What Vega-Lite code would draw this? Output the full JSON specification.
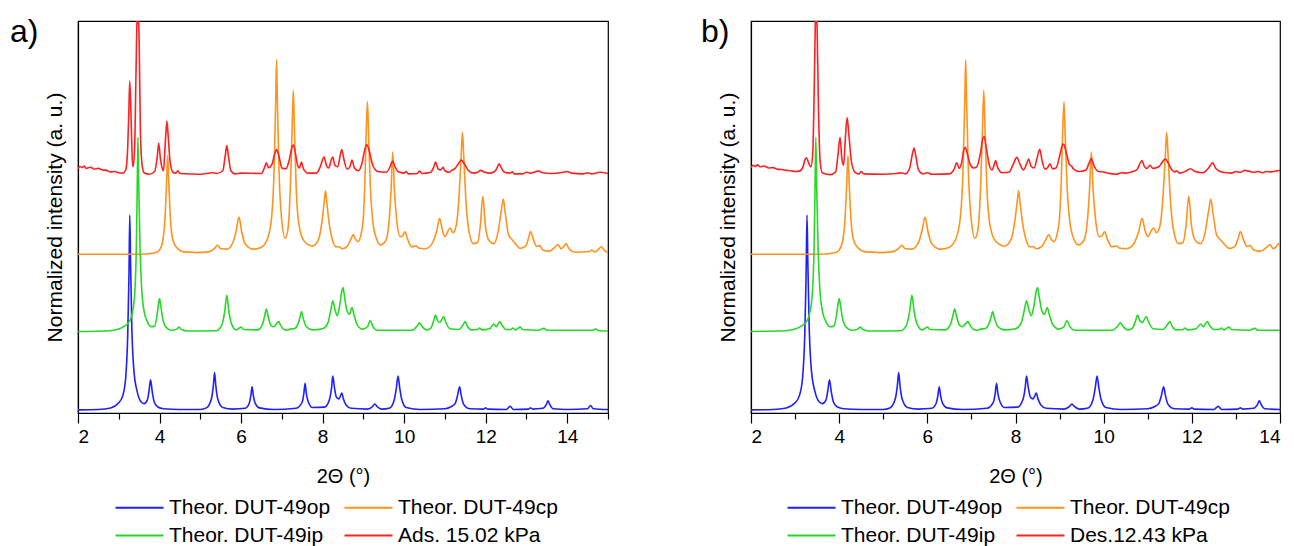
{
"$schema": "https://vega.github.io/schema/vega-lite/v6.json",
"padding": {"left": 9, "top": 15, "right": 5, "bottom": 0},
"spacing": 90,
"resolve": {"scale": {"color": "independent"}},
"config": {
 "font": "Liberation Sans",
 "view": {"stroke": "#000", "strokeWidth": 1.2},
 "axis": {"domainColor": "#000", "domainWidth": 1.2, "tickColor": "#000", "tickWidth": 1.2, "labelColor": "#000", "titleColor": "#000", "grid": false, "labelFontSize": 19, "titleFontSize": 20, "titleFontWeight": "normal", "labelFont": "Liberation Sans", "titleFont": "Liberation Sans"},
 "legend": {"orient": "bottom", "columns": 2, "symbolType": "M-3,0H3", "symbolSize": 256, "symbolStrokeWidth": 2, "labelOffset": 19, "labelFontSize": 21, "labelLimit": 400, "columnPadding": 9, "rowPadding": 6, "labelColor": "#000", "labelFont": "Liberation Sans", "offset": 11, "layout": {"bottom": {"anchor": "middle"}}},
 "title": {"fontSize": 32, "fontWeight": "normal", "anchor": "start", "frame": "group", "color": "#000", "font": "Liberation Sans"}
},
"datasets": {
 "theor": [
  {"s":"op","x":2.0,"y":0.8},{"s":"op","x":2.5,"y":0.9},{"s":"op","x":2.8,"y":1.3},{"s":"op","x":3.0,"y":2.6},{"s":"op","x":3.1,"y":4.5},{"s":"op","x":3.17,"y":9},{"s":"op","x":3.22,"y":20},{"s":"op","x":3.25,"y":35},{"s":"op","x":3.27,"y":50.5},{"s":"op","x":3.29,"y":38},{"s":"op","x":3.32,"y":22},{"s":"op","x":3.37,"y":11},{"s":"op","x":3.45,"y":5.5},{"s":"op","x":3.55,"y":2.8},{"s":"op","x":3.62,"y":2.4},{"s":"op","x":3.7,"y":3.3},{"s":"op","x":3.74,"y":5.5},{"s":"op","x":3.78,"y":8.5},{"s":"op","x":3.82,"y":5.5},{"s":"op","x":3.87,"y":2.8},{"s":"op","x":3.95,"y":1.6},{"s":"op","x":4.1,"y":1.1},{"s":"op","x":4.5,"y":0.9},{"s":"op","x":5.0,"y":0.9},{"s":"op","x":5.15,"y":1.3},{"s":"op","x":5.27,"y":3.5},{"s":"op","x":5.32,"y":7},{"s":"op","x":5.35,"y":10.3},{"s":"op","x":5.38,"y":7},{"s":"op","x":5.43,"y":3.5},{"s":"op","x":5.55,"y":1.4},{"s":"op","x":5.8,"y":1.0},{"s":"op","x":6.1,"y":1.2},{"s":"op","x":6.2,"y":2.5},{"s":"op","x":6.24,"y":4.5},{"s":"op","x":6.27,"y":6.7},{"s":"op","x":6.3,"y":4.5},{"s":"op","x":6.35,"y":2.4},{"s":"op","x":6.45,"y":1.3},{"s":"op","x":6.8,"y":0.9},{"s":"op","x":7.35,"y":1.2},{"s":"op","x":7.5,"y":2.8},{"s":"op","x":7.54,"y":5},{"s":"op","x":7.57,"y":7.6},{"s":"op","x":7.6,"y":5},{"s":"op","x":7.65,"y":2.8},{"s":"op","x":7.75,"y":1.4},{"s":"op","x":8.05,"y":1.5},{"s":"op","x":8.17,"y":3.5},{"s":"op","x":8.22,"y":6.5},{"s":"op","x":8.25,"y":9.4},{"s":"op","x":8.29,"y":6.5},{"s":"op","x":8.34,"y":4},{"s":"op","x":8.4,"y":3.6},{"s":"op","x":8.44,"y":4.4},{"s":"op","x":8.47,"y":5.1},{"s":"op","x":8.51,"y":3.6},{"s":"op","x":8.58,"y":2.0},{"s":"op","x":8.7,"y":1.2},{"s":"op","x":9.1,"y":1.0},{"s":"op","x":9.22,"y":1.6},{"s":"op","x":9.28,"y":2.3},{"s":"op","x":9.34,"y":1.6},{"s":"op","x":9.45,"y":1.0},{"s":"op","x":9.65,"y":1.3},{"s":"op","x":9.76,"y":3.5},{"s":"op","x":9.81,"y":6.5},{"s":"op","x":9.85,"y":9.4},{"s":"op","x":9.89,"y":6.5},{"s":"op","x":9.94,"y":3.5},{"s":"op","x":10.05,"y":1.4},{"s":"op","x":10.4,"y":0.9},{"s":"op","x":11.0,"y":1.1},{"s":"op","x":11.15,"y":1.6},{"s":"op","x":11.25,"y":2.4},{"s":"op","x":11.31,"y":4.5},{"s":"op","x":11.36,"y":6.7},{"s":"op","x":11.4,"y":4.5},{"s":"op","x":11.46,"y":2.2},{"s":"op","x":11.6,"y":1.1},{"s":"op","x":11.95,"y":1.0},{"s":"op","x":12.0,"y":1.3},{"s":"op","x":12.05,"y":1.0},{"s":"op","x":12.5,"y":0.9},{"s":"op","x":12.6,"y":1.7},{"s":"op","x":12.68,"y":0.9},{"s":"op","x":13.05,"y":1.0},{"s":"op","x":13.1,"y":1.3},{"s":"op","x":13.15,"y":1.0},{"s":"op","x":13.4,"y":1.2},{"s":"op","x":13.49,"y":2.2},{"s":"op","x":13.53,"y":3.1},{"s":"op","x":13.57,"y":2.2},{"s":"op","x":13.65,"y":1.1},{"s":"op","x":14.0,"y":0.9},{"s":"op","x":14.5,"y":1.1},{"s":"op","x":14.57,"y":1.9},{"s":"op","x":14.64,"y":1.1},{"s":"op","x":15.0,"y":0.9},
  {"s":"cp","x":2.0,"y":40.5},{"s":"cp","x":3.5,"y":40.5},{"s":"cp","x":3.9,"y":40.9},{"s":"cp","x":4.0,"y":41.6},{"s":"cp","x":4.08,"y":44},{"s":"cp","x":4.13,"y":49},{"s":"cp","x":4.17,"y":58},{"s":"cp","x":4.2,"y":65.7},{"s":"cp","x":4.23,"y":58},{"s":"cp","x":4.27,"y":49},{"s":"cp","x":4.33,"y":44},{"s":"cp","x":4.42,"y":42.2},{"s":"cp","x":4.6,"y":41.1},{"s":"cp","x":4.85,"y":41.0},{"s":"cp","x":4.9,"y":40.9},{"s":"cp","x":5.2,"y":41.1},{"s":"cp","x":5.35,"y":42},{"s":"cp","x":5.42,"y":42.8},{"s":"cp","x":5.5,"y":41.9},{"s":"cp","x":5.65,"y":41.8},{"s":"cp","x":5.8,"y":43.5},{"s":"cp","x":5.88,"y":46.5},{"s":"cp","x":5.95,"y":50.0},{"s":"cp","x":6.01,"y":46.5},{"s":"cp","x":6.1,"y":43.2},{"s":"cp","x":6.3,"y":41.8},{"s":"cp","x":6.5,"y":42.3},{"s":"cp","x":6.65,"y":44.5},{"s":"cp","x":6.75,"y":50},{"s":"cp","x":6.81,"y":62},{"s":"cp","x":6.85,"y":80},{"s":"cp","x":6.87,"y":90.1},{"s":"cp","x":6.89,"y":80},{"s":"cp","x":6.93,"y":62},{"s":"cp","x":6.99,"y":50},{"s":"cp","x":7.08,"y":44.6},{"s":"cp","x":7.15,"y":47},{"s":"cp","x":7.21,"y":58},{"s":"cp","x":7.25,"y":72},{"s":"cp","x":7.28,"y":82.3},{"s":"cp","x":7.31,"y":72},{"s":"cp","x":7.35,"y":58},{"s":"cp","x":7.42,"y":48},{"s":"cp","x":7.55,"y":43.8},{"s":"cp","x":7.75,"y":42.6},{"s":"cp","x":7.9,"y":44.3},{"s":"cp","x":7.98,"y":48.5},{"s":"cp","x":8.04,"y":54},{"s":"cp","x":8.07,"y":56.7},{"s":"cp","x":8.1,"y":54},{"s":"cp","x":8.16,"y":48.5},{"s":"cp","x":8.25,"y":43.8},{"s":"cp","x":8.33,"y":42.4},{"s":"cp","x":8.4,"y":42.4},{"s":"cp","x":8.48,"y":41.9},{"s":"cp","x":8.6,"y":42.5},{"s":"cp","x":8.7,"y":44.5},{"s":"cp","x":8.75,"y":45.5},{"s":"cp","x":8.8,"y":44.5},{"s":"cp","x":8.87,"y":43.7},{"s":"cp","x":8.95,"y":46},{"s":"cp","x":9.0,"y":50},{"s":"cp","x":9.04,"y":60},{"s":"cp","x":9.07,"y":72},{"s":"cp","x":9.1,"y":79.4},{"s":"cp","x":9.13,"y":70},{"s":"cp","x":9.17,"y":58},{"s":"cp","x":9.23,"y":49},{"s":"cp","x":9.32,"y":44.5},{"s":"cp","x":9.42,"y":42.9},{"s":"cp","x":9.55,"y":44},{"s":"cp","x":9.63,"y":49},{"s":"cp","x":9.68,"y":57},{"s":"cp","x":9.72,"y":66.6},{"s":"cp","x":9.76,"y":57},{"s":"cp","x":9.82,"y":49},{"s":"cp","x":9.9,"y":45},{"s":"cp","x":9.96,"y":45.2},{"s":"cp","x":10.02,"y":46.2},{"s":"cp","x":10.08,"y":44.5},{"s":"cp","x":10.18,"y":42.4},{"s":"cp","x":10.3,"y":42.6},{"s":"cp","x":10.35,"y":42.1},{"s":"cp","x":10.5,"y":41.9},{"s":"cp","x":10.6,"y":42.2},{"s":"cp","x":10.7,"y":43.5},{"s":"cp","x":10.8,"y":46.5},{"s":"cp","x":10.87,"y":49.7},{"s":"cp","x":10.94,"y":46.5},{"s":"cp","x":11.0,"y":45},{"s":"cp","x":11.07,"y":46.3},{"s":"cp","x":11.13,"y":47.2},{"s":"cp","x":11.2,"y":46},{"s":"cp","x":11.28,"y":48},{"s":"cp","x":11.35,"y":56},{"s":"cp","x":11.4,"y":66},{"s":"cp","x":11.43,"y":71.6},{"s":"cp","x":11.46,"y":66},{"s":"cp","x":11.51,"y":55},{"s":"cp","x":11.58,"y":47},{"s":"cp","x":11.7,"y":43.2},{"s":"cp","x":11.8,"y":43.5},{"s":"cp","x":11.87,"y":48},{"s":"cp","x":11.93,"y":55.3},{"s":"cp","x":11.99,"y":48},{"s":"cp","x":12.08,"y":44},{"s":"cp","x":12.2,"y":43.2},{"s":"cp","x":12.3,"y":46},{"s":"cp","x":12.38,"y":51.5},{"s":"cp","x":12.43,"y":54.6},{"s":"cp","x":12.48,"y":51},{"s":"cp","x":12.56,"y":45.5},{"s":"cp","x":12.65,"y":44.2},{"s":"cp","x":12.72,"y":43.3},{"s":"cp","x":12.85,"y":42},{"s":"cp","x":12.98,"y":42.6},{"s":"cp","x":13.05,"y":44.6},{"s":"cp","x":13.1,"y":46.3},{"s":"cp","x":13.16,"y":44.6},{"s":"cp","x":13.25,"y":42.5},{"s":"cp","x":13.33,"y":42.7},{"s":"cp","x":13.4,"y":41.6},{"s":"cp","x":13.55,"y":41.3},{"s":"cp","x":13.7,"y":42.3},{"s":"cp","x":13.77,"y":43.0},{"s":"cp","x":13.85,"y":41.9},{"s":"cp","x":13.92,"y":42.5},{"s":"cp","x":13.97,"y":43.2},{"s":"cp","x":14.05,"y":41.8},{"s":"cp","x":14.2,"y":41.0},{"s":"cp","x":14.55,"y":41.2},{"s":"cp","x":14.6,"y":41.6},{"s":"cp","x":14.68,"y":41.1},{"s":"cp","x":14.77,"y":41.8},{"s":"cp","x":14.83,"y":42.4},{"s":"cp","x":14.92,"y":41.4},{"s":"cp","x":15.0,"y":40.9},
  {"s":"ip","x":2.0,"y":20.8},{"s":"ip","x":2.8,"y":21.0},{"s":"ip","x":3.0,"y":21.4},{"s":"ip","x":3.15,"y":22.2},{"s":"ip","x":3.27,"y":23.5},{"s":"ip","x":3.35,"y":26.5},{"s":"ip","x":3.4,"y":32},{"s":"ip","x":3.43,"y":42},{"s":"ip","x":3.45,"y":55},{"s":"ip","x":3.47,"y":70.3},{"s":"ip","x":3.49,"y":58},{"s":"ip","x":3.52,"y":43},{"s":"ip","x":3.56,"y":32},{"s":"ip","x":3.62,"y":26},{"s":"ip","x":3.7,"y":23.3},{"s":"ip","x":3.8,"y":22},{"s":"ip","x":3.88,"y":22.2},{"s":"ip","x":3.94,"y":25},{"s":"ip","x":3.97,"y":27.5},{"s":"ip","x":4.0,"y":29.2},{"s":"ip","x":4.03,"y":27.5},{"s":"ip","x":4.07,"y":24.5},{"s":"ip","x":4.15,"y":22},{"s":"ip","x":4.3,"y":21.1},{"s":"ip","x":4.42,"y":21.4},{"s":"ip","x":4.48,"y":21.9},{"s":"ip","x":4.54,"y":21.3},{"s":"ip","x":4.7,"y":20.9},{"s":"ip","x":5.4,"y":21.0},{"s":"ip","x":5.52,"y":22.2},{"s":"ip","x":5.6,"y":26},{"s":"ip","x":5.65,"y":30.0},{"s":"ip","x":5.7,"y":26},{"s":"ip","x":5.77,"y":22.6},{"s":"ip","x":5.88,"y":21.2},{"s":"ip","x":5.96,"y":21.7},{"s":"ip","x":6.0,"y":21.9},{"s":"ip","x":6.06,"y":21.3},{"s":"ip","x":6.4,"y":21.2},{"s":"ip","x":6.52,"y":22.5},{"s":"ip","x":6.58,"y":24.8},{"s":"ip","x":6.62,"y":26.5},{"s":"ip","x":6.66,"y":24.8},{"s":"ip","x":6.73,"y":22.4},{"s":"ip","x":6.8,"y":22.0},{"s":"ip","x":6.87,"y":22.8},{"s":"ip","x":6.92,"y":23.3},{"s":"ip","x":6.97,"y":22.4},{"s":"ip","x":7.05,"y":21.3},{"s":"ip","x":7.15,"y":21.1},{"s":"ip","x":7.2,"y":21.4},{"s":"ip","x":7.3,"y":21.5},{"s":"ip","x":7.4,"y":22.8},{"s":"ip","x":7.45,"y":24.6},{"s":"ip","x":7.48,"y":25.9},{"s":"ip","x":7.52,"y":24.3},{"s":"ip","x":7.6,"y":22.0},{"s":"ip","x":7.75,"y":21.2},{"s":"ip","x":8.0,"y":21.5},{"s":"ip","x":8.13,"y":23},{"s":"ip","x":8.2,"y":26.2},{"s":"ip","x":8.25,"y":28.6},{"s":"ip","x":8.3,"y":26.5},{"s":"ip","x":8.36,"y":24.8},{"s":"ip","x":8.42,"y":27.5},{"s":"ip","x":8.47,"y":31},{"s":"ip","x":8.5,"y":32.0},{"s":"ip","x":8.54,"y":29.5},{"s":"ip","x":8.6,"y":26},{"s":"ip","x":8.66,"y":25.2},{"s":"ip","x":8.72,"y":26.9},{"s":"ip","x":8.77,"y":25},{"s":"ip","x":8.85,"y":22.5},{"s":"ip","x":8.98,"y":21.4},{"s":"ip","x":9.1,"y":22},{"s":"ip","x":9.17,"y":23.6},{"s":"ip","x":9.23,"y":22.1},{"s":"ip","x":9.35,"y":21.1},{"s":"ip","x":10.2,"y":21.1},{"s":"ip","x":10.32,"y":22.2},{"s":"ip","x":10.38,"y":23.0},{"s":"ip","x":10.44,"y":22.1},{"s":"ip","x":10.55,"y":21.2},{"s":"ip","x":10.65,"y":21.6},{"s":"ip","x":10.72,"y":23.4},{"s":"ip","x":10.77,"y":25.0},{"s":"ip","x":10.82,"y":23.5},{"s":"ip","x":10.88,"y":23.1},{"s":"ip","x":10.93,"y":24.0},{"s":"ip","x":10.97,"y":24.6},{"s":"ip","x":11.02,"y":23.2},{"s":"ip","x":11.12,"y":21.5},{"s":"ip","x":11.35,"y":21.3},{"s":"ip","x":11.45,"y":22.6},{"s":"ip","x":11.5,"y":23.3},{"s":"ip","x":11.55,"y":22.2},{"s":"ip","x":11.65,"y":21.2},{"s":"ip","x":11.8,"y":21.3},{"s":"ip","x":11.85,"y":21.7},{"s":"ip","x":11.9,"y":21.2},{"s":"ip","x":12.1,"y":21.5},{"s":"ip","x":12.2,"y":22.7},{"s":"ip","x":12.26,"y":22.0},{"s":"ip","x":12.31,"y":22.8},{"s":"ip","x":12.35,"y":23.3},{"s":"ip","x":12.4,"y":22.4},{"s":"ip","x":12.5,"y":21.3},{"s":"ip","x":12.62,"y":21.3},{"s":"ip","x":12.67,"y":21.7},{"s":"ip","x":12.73,"y":21.2},{"s":"ip","x":12.8,"y":21.7},{"s":"ip","x":12.85,"y":21.9},{"s":"ip","x":12.9,"y":21.3},{"s":"ip","x":13.3,"y":21.1},{"s":"ip","x":13.43,"y":21.6},{"s":"ip","x":13.5,"y":21.1},{"s":"ip","x":14.6,"y":21.1},{"s":"ip","x":14.7,"y":21.4},{"s":"ip","x":14.78,"y":21.0},{"s":"ip","x":15.0,"y":20.9}
 ],
 "ads": [
  {"s":"ads","x":2.0,"y":62.3},{"s":"ads","x":2.05,"y":62.9},{"s":"ads","x":2.1,"y":62.6},{"s":"ads","x":2.15,"y":63.0},{"s":"ads","x":2.2,"y":62.4},{"s":"ads","x":2.3,"y":62.7},{"s":"ads","x":2.4,"y":62.2},{"s":"ads","x":2.5,"y":62.4},{"s":"ads","x":2.6,"y":62.0},{"s":"ads","x":2.7,"y":61.9},{"s":"ads","x":2.8,"y":61.5},{"s":"ads","x":2.9,"y":61.6},{"s":"ads","x":3.0,"y":61.3},{"s":"ads","x":3.1,"y":61.2},{"s":"ads","x":3.17,"y":62},{"s":"ads","x":3.22,"y":68},{"s":"ads","x":3.25,"y":78},{"s":"ads","x":3.27,"y":84.7},{"s":"ads","x":3.3,"y":76},{"s":"ads","x":3.33,"y":65},{"s":"ads","x":3.35,"y":62.8},{"s":"ads","x":3.39,"y":68},{"s":"ads","x":3.42,"y":85},{"s":"ads","x":3.45,"y":101},{"s":"ads","x":3.47,"y":103},{"s":"ads","x":3.5,"y":95},{"s":"ads","x":3.53,"y":72},{"s":"ads","x":3.57,"y":63.5},{"s":"ads","x":3.62,"y":61.3},{"s":"ads","x":3.75,"y":60.9},{"s":"ads","x":3.88,"y":61.6},{"s":"ads","x":3.94,"y":65},{"s":"ads","x":3.98,"y":68.8},{"s":"ads","x":4.02,"y":65},{"s":"ads","x":4.08,"y":62},{"s":"ads","x":4.1,"y":61.8},{"s":"ads","x":4.13,"y":67},{"s":"ads","x":4.16,"y":72},{"s":"ads","x":4.18,"y":74.4},{"s":"ads","x":4.21,"y":71},{"s":"ads","x":4.26,"y":64},{"s":"ads","x":4.33,"y":61.4},{"s":"ads","x":4.4,"y":61.2},{"s":"ads","x":4.45,"y":61.8},{"s":"ads","x":4.5,"y":61.1},{"s":"ads","x":5.0,"y":60.9},{"s":"ads","x":5.3,"y":61.3},{"s":"ads","x":5.4,"y":61.1},{"s":"ads","x":5.55,"y":61.8},{"s":"ads","x":5.61,"y":65.5},{"s":"ads","x":5.65,"y":68.2},{"s":"ads","x":5.69,"y":65.5},{"s":"ads","x":5.75,"y":61.8},{"s":"ads","x":5.85,"y":61.0},{"s":"ads","x":6.0,"y":61.2},{"s":"ads","x":6.5,"y":61.1},{"s":"ads","x":6.57,"y":62.5},{"s":"ads","x":6.62,"y":63.8},{"s":"ads","x":6.67,"y":62.6},{"s":"ads","x":6.76,"y":63.5},{"s":"ads","x":6.83,"y":66.3},{"s":"ads","x":6.87,"y":67.2},{"s":"ads","x":6.93,"y":65.5},{"s":"ads","x":7.0,"y":62.5},{"s":"ads","x":7.1,"y":62.3},{"s":"ads","x":7.18,"y":64.5},{"s":"ads","x":7.25,"y":67.8},{"s":"ads","x":7.28,"y":68.4},{"s":"ads","x":7.33,"y":66.5},{"s":"ads","x":7.38,"y":63.5},{"s":"ads","x":7.43,"y":62.5},{"s":"ads","x":7.48,"y":64.0},{"s":"ads","x":7.53,"y":62.3},{"s":"ads","x":7.65,"y":61.2},{"s":"ads","x":7.85,"y":61.2},{"s":"ads","x":7.95,"y":63},{"s":"ads","x":8.03,"y":65.3},{"s":"ads","x":8.1,"y":63},{"s":"ads","x":8.15,"y":62.5},{"s":"ads","x":8.22,"y":64.8},{"s":"ads","x":8.25,"y":65.3},{"s":"ads","x":8.3,"y":63.2},{"s":"ads","x":8.37,"y":62.8},{"s":"ads","x":8.44,"y":66.2},{"s":"ads","x":8.47,"y":67.2},{"s":"ads","x":8.52,"y":64.8},{"s":"ads","x":8.6,"y":62.2},{"s":"ads","x":8.67,"y":62.8},{"s":"ads","x":8.72,"y":64.5},{"s":"ads","x":8.78,"y":62.5},{"s":"ads","x":8.88,"y":61.8},{"s":"ads","x":8.96,"y":63.5},{"s":"ads","x":9.03,"y":67},{"s":"ads","x":9.08,"y":68.5},{"s":"ads","x":9.14,"y":67},{"s":"ads","x":9.22,"y":63.5},{"s":"ads","x":9.35,"y":61.6},{"s":"ads","x":9.55,"y":61.4},{"s":"ads","x":9.64,"y":62.5},{"s":"ads","x":9.69,"y":63.8},{"s":"ads","x":9.72,"y":64.3},{"s":"ads","x":9.76,"y":63.2},{"s":"ads","x":9.85,"y":61.6},{"s":"ads","x":10.0,"y":61.2},{"s":"ads","x":10.05,"y":61.6},{"s":"ads","x":10.1,"y":61.0},{"s":"ads","x":10.32,"y":61.1},{"s":"ads","x":10.38,"y":61.7},{"s":"ads","x":10.44,"y":61.1},{"s":"ads","x":10.65,"y":61.4},{"s":"ads","x":10.72,"y":62.6},{"s":"ads","x":10.77,"y":64.0},{"s":"ads","x":10.83,"y":62.3},{"s":"ads","x":10.9,"y":62.0},{"s":"ads","x":10.95,"y":62.7},{"s":"ads","x":11.0,"y":61.8},{"s":"ads","x":11.1,"y":61.4},{"s":"ads","x":11.18,"y":62.0},{"s":"ads","x":11.25,"y":62.4},{"s":"ads","x":11.33,"y":63.6},{"s":"ads","x":11.4,"y":64.5},{"s":"ads","x":11.48,"y":63.5},{"s":"ads","x":11.58,"y":61.8},{"s":"ads","x":11.7,"y":61.2},{"s":"ads","x":11.8,"y":61.4},{"s":"ads","x":11.88,"y":61.9},{"s":"ads","x":11.96,"y":61.5},{"s":"ads","x":12.1,"y":61.2},{"s":"ads","x":12.22,"y":61.6},{"s":"ads","x":12.29,"y":62.8},{"s":"ads","x":12.33,"y":63.6},{"s":"ads","x":12.38,"y":62.6},{"s":"ads","x":12.45,"y":61.5},{"s":"ads","x":12.6,"y":61.2},{"s":"ads","x":12.65,"y":61.5},{"s":"ads","x":12.7,"y":61.0},{"s":"ads","x":12.9,"y":61.0},{"s":"ads","x":13.0,"y":61.4},{"s":"ads","x":13.1,"y":61.2},{"s":"ads","x":13.3,"y":61.7},{"s":"ads","x":13.4,"y":61.3},{"s":"ads","x":13.6,"y":61.1},{"s":"ads","x":13.9,"y":61.4},{"s":"ads","x":14.0,"y":61.6},{"s":"ads","x":14.1,"y":61.2},{"s":"ads","x":14.4,"y":61.0},{"s":"ads","x":14.5,"y":61.3},{"s":"ads","x":14.6,"y":61.0},{"s":"ads","x":14.7,"y":61.2},{"s":"ads","x":14.8,"y":61.4},{"s":"ads","x":15.0,"y":61.1}
 ],
 "des": [
  {"s":"des","x":2.0,"y":62.6},{"s":"des","x":2.05,"y":63.2},{"s":"des","x":2.1,"y":62.9},{"s":"des","x":2.15,"y":63.3},{"s":"des","x":2.2,"y":62.8},{"s":"des","x":2.3,"y":63.0},{"s":"des","x":2.4,"y":62.5},{"s":"des","x":2.5,"y":62.6},{"s":"des","x":2.6,"y":62.2},{"s":"des","x":2.7,"y":62.1},{"s":"des","x":2.8,"y":61.9},{"s":"des","x":2.9,"y":61.8},{"s":"des","x":3.0,"y":61.6},{"s":"des","x":3.1,"y":61.7},{"s":"des","x":3.18,"y":62.8},{"s":"des","x":3.22,"y":64.5},{"s":"des","x":3.26,"y":65.1},{"s":"des","x":3.3,"y":64.0},{"s":"des","x":3.36,"y":62.8},{"s":"des","x":3.4,"y":66},{"s":"des","x":3.43,"y":80},{"s":"des","x":3.46,"y":100},{"s":"des","x":3.48,"y":104},{"s":"des","x":3.5,"y":98},{"s":"des","x":3.53,"y":78},{"s":"des","x":3.57,"y":64},{"s":"des","x":3.62,"y":61.2},{"s":"des","x":3.8,"y":60.8},{"s":"des","x":3.92,"y":61.5},{"s":"des","x":3.97,"y":65.5},{"s":"des","x":4.02,"y":70.3},{"s":"des","x":4.06,"y":65},{"s":"des","x":4.1,"y":63.2},{"s":"des","x":4.14,"y":70},{"s":"des","x":4.18,"y":75.4},{"s":"des","x":4.22,"y":71},{"s":"des","x":4.28,"y":64},{"s":"des","x":4.36,"y":61.4},{"s":"des","x":4.45,"y":61.0},{"s":"des","x":4.5,"y":61.6},{"s":"des","x":4.56,"y":61.0},{"s":"des","x":5.0,"y":60.9},{"s":"des","x":5.3,"y":61.1},{"s":"des","x":5.4,"y":61.3},{"s":"des","x":5.5,"y":61.0},{"s":"des","x":5.6,"y":62.5},{"s":"des","x":5.66,"y":66},{"s":"des","x":5.7,"y":67.6},{"s":"des","x":5.74,"y":65.5},{"s":"des","x":5.8,"y":62.0},{"s":"des","x":5.9,"y":61.0},{"s":"des","x":6.0,"y":61.3},{"s":"des","x":6.1,"y":60.9},{"s":"des","x":6.5,"y":61.0},{"s":"des","x":6.6,"y":62.0},{"s":"des","x":6.67,"y":63.8},{"s":"des","x":6.72,"y":62.4},{"s":"des","x":6.78,"y":64},{"s":"des","x":6.83,"y":67.2},{"s":"des","x":6.86,"y":67.8},{"s":"des","x":6.91,"y":66},{"s":"des","x":6.97,"y":63.5},{"s":"des","x":7.05,"y":62.5},{"s":"des","x":7.12,"y":62.8},{"s":"des","x":7.2,"y":66},{"s":"des","x":7.26,"y":70},{"s":"des","x":7.29,"y":70.5},{"s":"des","x":7.34,"y":67.5},{"s":"des","x":7.4,"y":63.5},{"s":"des","x":7.47,"y":62},{"s":"des","x":7.52,"y":63.5},{"s":"des","x":7.55,"y":64.4},{"s":"des","x":7.59,"y":62.8},{"s":"des","x":7.7,"y":61.3},{"s":"des","x":7.85,"y":61.4},{"s":"des","x":7.95,"y":63.5},{"s":"des","x":8.03,"y":65.2},{"s":"des","x":8.1,"y":63.5},{"s":"des","x":8.18,"y":62.0},{"s":"des","x":8.25,"y":63.5},{"s":"des","x":8.3,"y":64.8},{"s":"des","x":8.35,"y":63.0},{"s":"des","x":8.42,"y":62.5},{"s":"des","x":8.5,"y":65.5},{"s":"des","x":8.55,"y":67.3},{"s":"des","x":8.6,"y":64.5},{"s":"des","x":8.67,"y":62.2},{"s":"des","x":8.73,"y":62.6},{"s":"des","x":8.78,"y":63.6},{"s":"des","x":8.84,"y":62.3},{"s":"des","x":8.92,"y":62.5},{"s":"des","x":9.0,"y":65.5},{"s":"des","x":9.06,"y":68.2},{"s":"des","x":9.09,"y":68.6},{"s":"des","x":9.15,"y":66.5},{"s":"des","x":9.22,"y":63.5},{"s":"des","x":9.27,"y":63.0},{"s":"des","x":9.32,"y":62.2},{"s":"des","x":9.45,"y":61.6},{"s":"des","x":9.6,"y":62.0},{"s":"des","x":9.67,"y":63.8},{"s":"des","x":9.72,"y":64.9},{"s":"des","x":9.77,"y":63.4},{"s":"des","x":9.88,"y":61.6},{"s":"des","x":10.0,"y":61.5},{"s":"des","x":10.08,"y":61.2},{"s":"des","x":10.3,"y":60.9},{"s":"des","x":10.4,"y":61.3},{"s":"des","x":10.5,"y":61.2},{"s":"des","x":10.6,"y":61.4},{"s":"des","x":10.75,"y":62.0},{"s":"des","x":10.83,"y":63.8},{"s":"des","x":10.87,"y":64.4},{"s":"des","x":10.92,"y":63.0},{"s":"des","x":10.98,"y":62.4},{"s":"des","x":11.05,"y":63.2},{"s":"des","x":11.12,"y":62.4},{"s":"des","x":11.25,"y":62.8},{"s":"des","x":11.33,"y":64.0},{"s":"des","x":11.4,"y":64.8},{"s":"des","x":11.47,"y":63.6},{"s":"des","x":11.55,"y":62.0},{"s":"des","x":11.62,"y":61.5},{"s":"des","x":11.65,"y":61.8},{"s":"des","x":11.72,"y":61.2},{"s":"des","x":11.85,"y":61.6},{"s":"des","x":11.97,"y":62.3},{"s":"des","x":12.07,"y":61.6},{"s":"des","x":12.25,"y":61.3},{"s":"des","x":12.38,"y":62.5},{"s":"des","x":12.47,"y":63.8},{"s":"des","x":12.55,"y":62.3},{"s":"des","x":12.7,"y":61.4},{"s":"des","x":12.9,"y":61.2},{"s":"des","x":13.0,"y":61.6},{"s":"des","x":13.1,"y":61.4},{"s":"des","x":13.2,"y":61.9},{"s":"des","x":13.3,"y":61.7},{"s":"des","x":13.4,"y":61.4},{"s":"des","x":13.5,"y":61.6},{"s":"des","x":13.6,"y":61.3},{"s":"des","x":13.7,"y":61.6},{"s":"des","x":13.8,"y":61.5},{"s":"des","x":13.9,"y":61.7},{"s":"des","x":14.0,"y":61.9}
 ]
},
"hconcat": [
 {
  "width": 530, "height": 392,
  "title": {"text": "a)", "dx": -68, "offset": -28},
  "resolve": {"axis": {"x": "independent"}},
  "layer": [
   {
    "data": {"name": "theor"},
    "mark": {"type": "line", "strokeWidth": 1.6, "clip": true, "interpolate": "monotone"},
    "encoding": {
     "x": {"field": "x", "type": "quantitative", "scale": {"domain": [2, 15], "nice": false, "zero": false}, "axis": {"values": [2, 4, 6, 8, 10, 12, 14], "tickSize": 10, "labelPadding": 4, "title": "2Θ (°)", "titlePadding": 20}},
     "y": {"field": "y", "type": "quantitative", "scale": {"domain": [0, 100], "nice": false, "zero": false}, "axis": {"title": "Normalized intensity (a. u.)", "labels": false, "ticks": false, "tickSize": 0, "titlePadding": 13, "titleFontSize": 21}},
     "color": {"field": "s", "type": "nominal", "scale": {"domain": ["op", "cp", "ip", "ads"], "range": ["#1f1fff", "#ff931f", "#26d926", "#ff2020"]}, "legend": {"title": null, "labelExpr": "datum.value=='op'?'Theor. DUT-49op':datum.value=='cp'?'Theor. DUT-49cp':datum.value=='ip'?'Theor. DUT-49ip':'Ads. 15.02 kPa'"}}
    }
   },
   {
    "data": {"name": "ads"},
    "mark": {"type": "line", "strokeWidth": 1.6, "clip": true, "interpolate": "monotone"},
    "encoding": {
     "x": {"field": "x", "type": "quantitative", "axis": {"orient": "bottom", "values": [3, 5, 7, 9, 11, 13, 15], "tickSize": 6, "labels": false, "domain": false, "title": null}},
     "y": {"field": "y", "type": "quantitative"},
     "color": {"field": "s", "type": "nominal"}
    }
   }
  ]
 },
 {
  "width": 529, "height": 392,
  "title": {"text": "b)", "dx": -50, "offset": -28},
  "resolve": {"axis": {"x": "independent"}},
  "layer": [
   {
    "data": {"name": "theor"},
    "mark": {"type": "line", "strokeWidth": 1.6, "clip": true, "interpolate": "monotone"},
    "encoding": {
     "x": {"field": "x", "type": "quantitative", "scale": {"domain": [2, 14], "nice": false, "zero": false}, "axis": {"values": [2, 4, 6, 8, 10, 12, 14], "tickSize": 10, "labelPadding": 4, "title": "2Θ (°)", "titlePadding": 20}},
     "y": {"field": "y", "type": "quantitative", "scale": {"domain": [0, 100], "nice": false, "zero": false}, "axis": {"title": "Normalized intensity (a. u.)", "labels": false, "ticks": false, "tickSize": 0, "titlePadding": 13, "titleFontSize": 21}},
     "color": {"field": "s", "type": "nominal", "scale": {"domain": ["op", "cp", "ip", "des"], "range": ["#1f1fff", "#ff931f", "#26d926", "#ff2020"]}, "legend": {"title": null, "labelExpr": "datum.value=='op'?'Theor. DUT-49op':datum.value=='cp'?'Theor. DUT-49cp':datum.value=='ip'?'Theor. DUT-49ip':'Des.12.43 kPa'"}}
    }
   },
   {
    "data": {"name": "des"},
    "mark": {"type": "line", "strokeWidth": 1.6, "clip": true, "interpolate": "monotone"},
    "encoding": {
     "x": {"field": "x", "type": "quantitative", "axis": {"orient": "bottom", "values": [3, 5, 7, 9, 11, 13], "tickSize": 6, "labels": false, "domain": false, "title": null}},
     "y": {"field": "y", "type": "quantitative"},
     "color": {"field": "s", "type": "nominal"}
    }
   }
  ]
 }
]
}
